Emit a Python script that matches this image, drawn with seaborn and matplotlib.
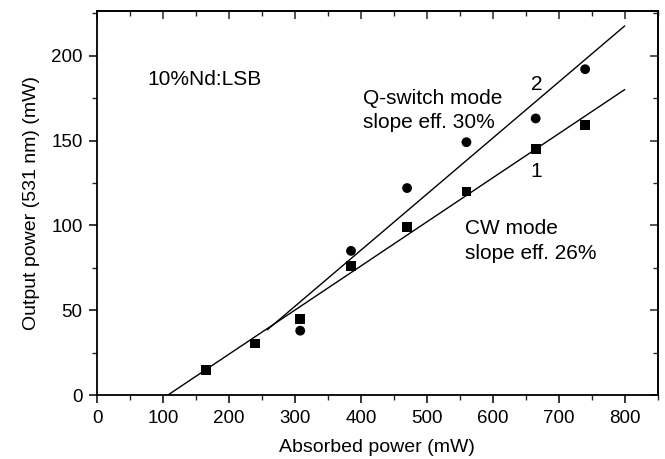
import pandas as pd
import seaborn as sns
import matplotlib.pyplot as plt
from matplotlib.ticker import MultipleLocator

# Data
cw_power = [165, 240, 308, 385, 470, 560, 665, 740]
cw_output = [15, 30.5, 45, 76, 99, 120, 145, 159]
qs_power = [308, 385, 470, 560, 665, 740]
qs_output = [38, 85, 122, 149, 163, 192]

# Linear fits (end points)
cw_fit_x = [107, 800]
cw_fit_y = [0, 180]
qs_fit_x = [258, 800]
qs_fit_y = [38.5, 217.5]

sns.set_theme(style="ticks")
plt.rcParams['font.family'] = ['Liberation Sans', 'DejaVu Sans']

points = pd.concat([
    pd.DataFrame({'power': cw_power, 'output': cw_output, 'mode': 'CW'}),
    pd.DataFrame({'power': qs_power, 'output': qs_output, 'mode': 'Q-switch'}),
])
fits = pd.concat([
    pd.DataFrame({'power': cw_fit_x, 'output': cw_fit_y, 'mode': 'CW'}),
    pd.DataFrame({'power': qs_fit_x, 'output': qs_fit_y, 'mode': 'Q-switch'}),
])

fig = plt.figure(figsize=(6.65, 4.59), dpi=100)
ax = fig.add_axes([0.146, 0.139, 0.843, 0.836])

sns.lineplot(data=fits, x='power', y='output', units='mode', estimator=None,
             color='black', linewidth=1.0, ax=ax, legend=False)
sns.scatterplot(data=points, x='power', y='output', style='mode',
                markers={'CW': 's', 'Q-switch': 'o'},
                s=50, color='black', edgecolor='black',
                linewidth=0, ax=ax, legend=False)

ax.set_xlim(0, 850)
ax.set_ylim(0, 226)
ax.xaxis.set_major_locator(MultipleLocator(100))
ax.xaxis.set_minor_locator(MultipleLocator(50))
ax.yaxis.set_major_locator(MultipleLocator(50))
ax.yaxis.set_minor_locator(MultipleLocator(25))

for s in ax.spines.values():
    s.set_visible(True)
    s.set_linewidth(1.3)
    s.set_color('black')

ax.tick_params(which='major', direction='out', length=6, width=1.1,
               labelsize=13.5, colors='black', pad=4.5)
ax.tick_params(which='minor', direction='out', length=3.5, width=1.0)

# inward ticks on top and right
top = ax.secondary_xaxis('top')
top.xaxis.set_major_locator(MultipleLocator(100))
top.xaxis.set_minor_locator(MultipleLocator(50))
top.tick_params(which='major', direction='in', length=6, width=1.1, labeltop=False)
top.tick_params(which='minor', direction='in', length=3.5, width=1.0)
right = ax.secondary_yaxis('right')
right.yaxis.set_major_locator(MultipleLocator(50))
right.yaxis.set_minor_locator(MultipleLocator(25))
right.tick_params(which='major', direction='in', length=6, width=1.1, labelright=False)
right.tick_params(which='minor', direction='in', length=3.5, width=1.0)

ax.set_xlabel('Absorbed power (mW)', fontsize=14, color='black', labelpad=9)
ax.set_ylabel('Output power (531 nm) (mW)', fontsize=14, color='black', labelpad=8)

txt = dict(fontsize=15, color='black', va='center', ha='left')
ax.text(77, 186, '10%Nd:LSB', **txt)
ax.text(403, 175, 'Q-switch mode', **txt)
ax.text(403, 160.5, 'slope eff. 30%', **txt)
ax.text(558, 98, 'CW mode', **txt)
ax.text(558, 83.5, 'slope eff. 26%', **txt)
ax.text(666, 183, '2', fontsize=15, color='black', va='center', ha='center')
ax.text(666, 132, '1', fontsize=15, color='black', va='center', ha='center')

fig.savefig('out.png', dpi=100)
